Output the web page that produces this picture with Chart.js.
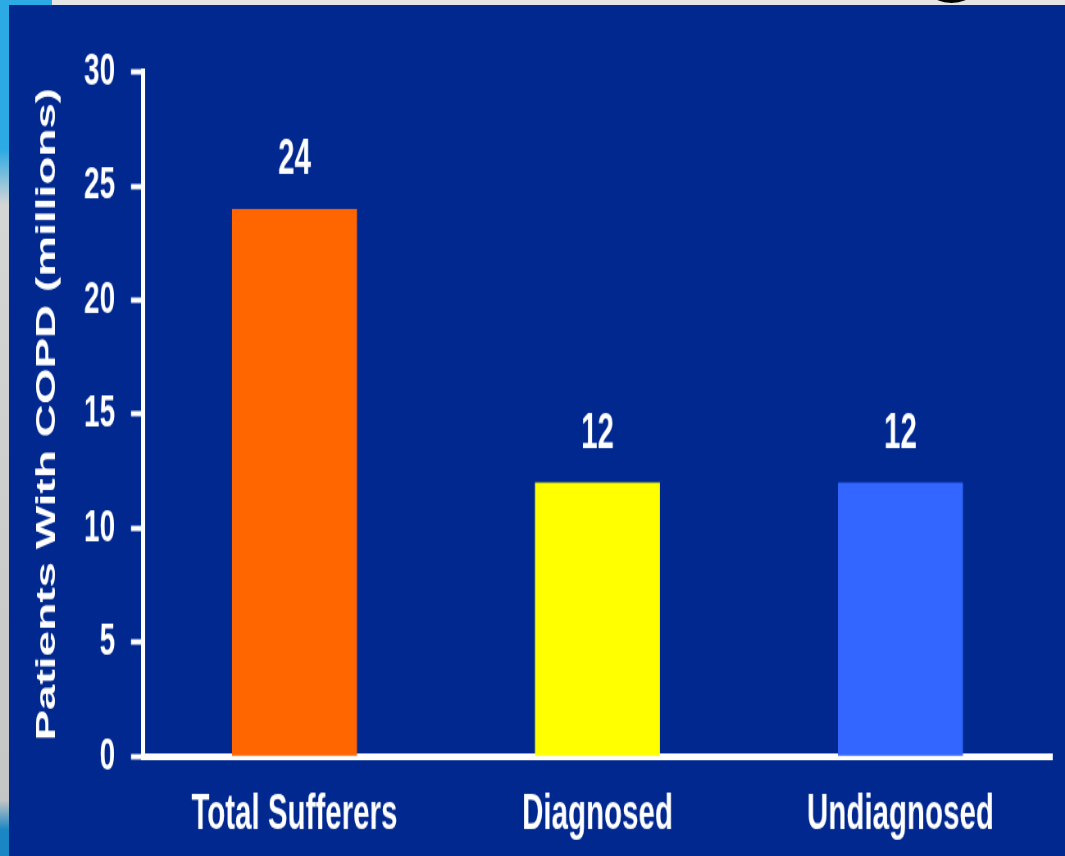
<!DOCTYPE html>
<html>
<head>
<meta charset="utf-8">
<script src="https://cdn.jsdelivr.net/npm/chart.js@4.4.1/dist/chart.umd.min.js"></script>
<style>
  html, body { margin: 0; padding: 0; }
  body {
    width: 1065px; height: 856px; overflow: hidden; position: relative;
    background: #e4e5e4;
  }
  /* slide frame: cyan corner strip on top, graded strip on the left */
  #topStrip { position: absolute; left: 0; top: 0; width: 52px; height: 5px; background: #2caae3; }
  #leftStrip {
    position: absolute; left: 0; top: 0; width: 9px; height: 856px;
    background: linear-gradient(to bottom, #2caae3 0px, #2caae3 150px, #d4d6d5 205px, #c4c6c5 800px, #1a86c4 830px, #1a86c4 856px);
  }
  #glyph {
    position: absolute; left: 933px; top: -14px; width: 37px; height: 17px;
    border-radius: 50%; background: #000;
  }
  #panel {
    position: absolute; left: 9px; top: 5px; width: 1056px; height: 851px;
    background: #00288f; overflow: hidden;
  }
  /* the chart is laid out wide and short, then pressed into the panel,
     which gives the tall condensed lettering */
  #stage {
    position: absolute; left: 0; top: 0; width: 1288px; height: 630px;
    transform: scale(0.8199, 1.3508); transform-origin: 0 0;
  }
</style>
</head>
<body>
<div id="topStrip"></div>
<div id="leftStrip"></div>
<div id="glyph"></div>
<div id="panel">
  <div id="stage"><canvas id="chart" width="1288" height="630"></canvas></div>
</div>
<script>
// Patients with COPD, in millions
const categories = ['Total Sufferers', 'Diagnosed', 'Undiagnosed'];
const patients = [24, 12, 12];
const barColors = ['#ff6600', '#ffff00', '#3366ff'];
const yTicks = [0, 5, 10, 15, 20, 25, 30];
const yTitle = 'Patients With COPD (millions)';

const sans = "'Liberation Sans', Arial, sans-serif";

// writes each bar's value above it
const valueLabels = {
  id: 'valueLabels',
  afterDraw(chart) {
    const ctx = chart.ctx;
    const meta = chart.getDatasetMeta(0);
    ctx.save();
    ctx.fillStyle = '#ffffff';
    ctx.font = `bold 36px ${sans}`;
    ctx.textAlign = 'center';
    ctx.textBaseline = 'middle';
    meta.data.forEach((bar, i) => {
      ctx.fillText(String(patients[i]), bar.x, bar.y - 35.5);
    });
    ctx.restore();
  }
};

new Chart(document.getElementById('chart'), {
  type: 'bar',
  data: {
    labels: categories,
    datasets: [{
      data: patients,
      backgroundColor: barColors,
      borderWidth: 0,
      barPercentage: 0.4125,
      categoryPercentage: 1
    }]
  },
  options: {
    responsive: false,
    animation: false,
    devicePixelRatio: 1,
    layout: { padding: { left: 0, right: 16, top: 49.6, bottom: 0 } },
    plugins: { legend: { display: false }, tooltip: { enabled: false } },
    scales: {
      x: {
        z: 1,
        afterFit(scale) { scale.height = 73.7; },
        grid: { display: false, drawTicks: false, tickLength: 0 },
        border: { display: true, color: '#ffffff', width: 5 },
        ticks: {
          color: '#ffffff',
          padding: 21.7,
          maxRotation: 0,
          autoSkip: false,
          font: { family: sans, size: 36, weight: 'bold' }
        }
      },
      y: {
        min: 0,
        max: 30,
        afterBuildTicks(scale) { scale.ticks = yTicks.map(v => ({ value: v })); },
        afterFit(scale) { scale.width = 163.4; },
        grid: {
          drawOnChartArea: false,
          drawTicks: true,
          tickLength: 14.6,
          tickWidth: 4,
          tickColor: '#ffffff'
        },
        border: { display: true, color: '#ffffff', width: 5 },
        ticks: {
          color: '#ffffff',
          padding: 19.5,
          font: { family: sans, size: 34, weight: 'bold' }
        },
        title: {
          display: true,
          text: yTitle,
          color: '#ffffff',
          padding: { top: 26, bottom: 0 },
          font: { family: sans, size: 34, weight: 'bold' }
        }
      }
    }
  },
  plugins: [valueLabels]
});
</script>
</body>
</html>
